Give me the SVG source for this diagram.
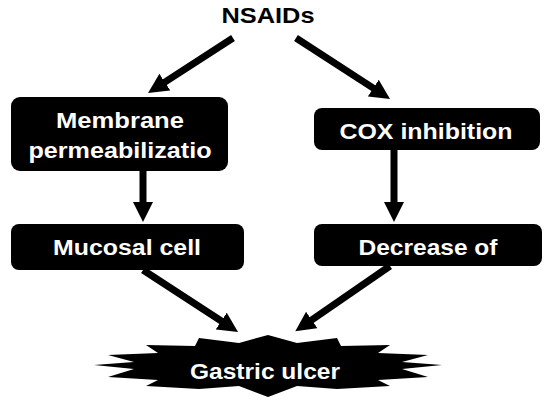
<svg xmlns="http://www.w3.org/2000/svg" width="550" height="414" viewBox="0 0 550 414">
  <style>
    .box { fill: #000; }
    .lbl { font-family: "Liberation Sans", Arial, sans-serif; font-weight: bold; font-size: 22px; fill: #fff; text-anchor: middle; }
    .title { fill: #000; }
    .arr { stroke: #000; stroke-width: 7; fill: none; marker-end: url(#head); }
  </style>
  <defs>
    <marker id="head" markerUnits="userSpaceOnUse" viewBox="0 0 20 20" refX="6" refY="10" markerWidth="20" markerHeight="20" orient="auto">
      <path d="M0,0 L20,10 L0,20 z" fill="#000"/>
    </marker>
  </defs>
  <rect width="550" height="414" fill="#fff"/>
  <g id="nsaids">
    <text class="lbl title" x="268" y="23" textLength="93" lengthAdjust="spacingAndGlyphs">NSAIDs</text>
  </g>
  <g id="membrane">
    <rect class="box" x="11" y="97" width="217" height="74" rx="9"/>
    <text class="lbl" x="120" y="128" textLength="128" lengthAdjust="spacingAndGlyphs">Membrane</text>
    <text class="lbl" x="120" y="158" textLength="183" lengthAdjust="spacingAndGlyphs">permeabilizatio</text>
  </g>
  <g id="cox">
    <rect class="box" x="314" y="108" width="226" height="42" rx="8"/>
    <text class="lbl" x="426" y="139" textLength="173" lengthAdjust="spacingAndGlyphs">COX inhibition</text>
  </g>
  <g id="mucosal">
    <rect class="box" x="11" y="224" width="233" height="46" rx="8"/>
    <text class="lbl" x="127" y="255" textLength="148" lengthAdjust="spacingAndGlyphs">Mucosal cell</text>
  </g>
  <g id="decrease">
    <rect class="box" x="314" y="224" width="228" height="42" rx="8"/>
    <text class="lbl" x="428" y="255" textLength="139" lengthAdjust="spacingAndGlyphs">Decrease of</text>
  </g>
  <g id="ulcer">
    <polygon fill="#000" points="268,335 297,343 337,338 341,346 390,345 378,353 428,355 402,362 442,365 402,369 428,377 378,380 390,386 337,389 297,386 268,397 239,386 199,389 146,386 158,380 108,377 134,369 94,365 134,362 108,355 158,353 146,345 195,346 199,338 239,343"/>
    <text class="lbl" x="265" y="379" textLength="150" lengthAdjust="spacingAndGlyphs">Gastric ulcer</text>
  </g>
  <g id="connectors">
    <line class="arr" x1="233" y1="38" x2="159.8" y2="85.4"/>
    <line class="arr" x1="296" y1="38" x2="378.3" y2="91.4"/>
    <line class="arr" x1="143" y1="171" x2="143" y2="208"/>
    <line class="arr" x1="394" y1="150" x2="394" y2="208"/>
    <line class="arr" x1="143" y1="270" x2="226.3" y2="324.3"/>
    <line class="arr" x1="390" y1="266" x2="306.8" y2="323.4"/>
  </g>
</svg>
